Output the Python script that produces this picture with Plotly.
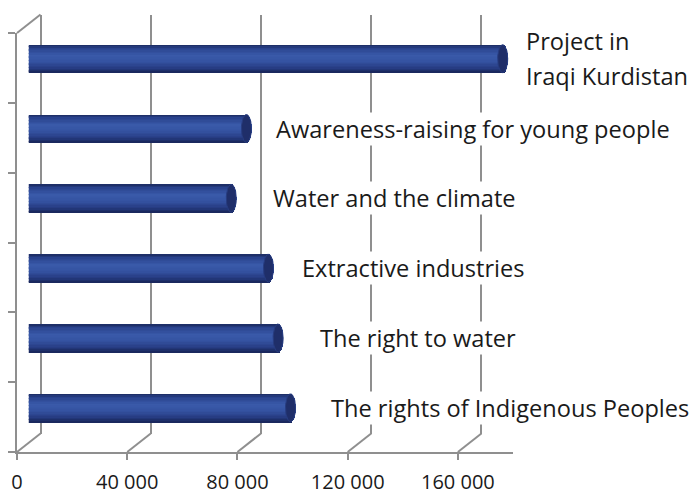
import math
import plotly.graph_objects as go

# ---------------- data ----------------
CATEGORIES = [
    "Project in Iraqi Kurdistan",
    "Awareness-raising for young people",
    "Water and the climate",
    "Extractive industries",
    "The right to water",
    "The rights of Indigenous Peoples",
]
LABEL_TEXT = [
    ["Project in", "Iraqi Kurdistan"],
    ["Awareness-raising for young people"],
    ["Water and the climate"],
    ["Extractive industries"],
    ["The right to water"],
    ["The rights of Indigenous Peoples"],
]
VALUES = [172000, 79000, 73500, 87000, 90500, 95000]
X_TICK_VALUES = [0, 40000, 80000, 120000, 160000]
X_TICK_LABELS = ["0", "40 000", "80 000", "120 000", "160 000"]

# ---------------- style / geometry ----------------
W, H = 693, 489
FRONT_L, FRONT_R, FRONT_T, FRONT_B = 17, 513, 33, 452
DX, DY = 23.5, 18.5            # depth offset of the back wall (px, right / up)
X_MAX = 180000
GRID = "#8f8f8f"
FONT = "Open Sans"
LABEL_GAP_PX = [22, 29, 41, 33, 41, 39]
LINE_PITCH = 35

n = len(CATEGORIES)
pos = [n - 1 - i for i in range(n)]           # top category drawn highest
px_per_unit = (FRONT_R - FRONT_L) / X_MAX
py_per_cat = (FRONT_B - FRONT_T) / n
BAR_T = 28 / py_per_cat                         # cylinder thickness (category units)
RX_U = 5 / px_per_unit                          # end-cap ellipse half width (x units)


def dom(sx, sy):
    return dict(
        domain_x=[(FRONT_L + sx) / W, (FRONT_R + sx) / W],
        domain_y=[(H - FRONT_B + sy) / H, (H - FRONT_T + sy) / H],
    )


def hex2rgb(h):
    h = h.lstrip("#")
    return [int(h[i:i + 2], 16) for i in (0, 2, 4)]


SHADE_STOPS = [
    (0.00, "#1b2a5e"),
    (0.12, "#29428c"),
    (0.38, "#3a5aaa"),
    (0.60, "#3452a1"),
    (0.82, "#273d84"),
    (1.00, "#182558"),
]


def shade(t):
    for (a, ca), (b, cb) in zip(SHADE_STOPS[:-1], SHADE_STOPS[1:]):
        if a <= t <= b:
            f = (t - a) / (b - a)
            r1, r2 = hex2rgb(ca), hex2rgb(cb)
            return "rgb(%d,%d,%d)" % tuple(round(p + (q - p) * f) for p, q in zip(r1, r2))
    return SHADE_STOPS[-1][1]


fig = go.Figure()

# empty traces so the front and back subplots exist
fig.add_trace(go.Scatter(x=[], y=[], xaxis="x", yaxis="y", showlegend=False, hoverinfo="skip"))
fig.add_trace(go.Scatter(x=[], y=[], xaxis="x2", yaxis="y2", showlegend=False, hoverinfo="skip"))

# base bar carrying the values
fig.add_trace(go.Bar(
    y=pos, x=VALUES, base=0, orientation="h", width=BAR_T,
    marker=dict(color="#2b4592", line=dict(width=0)),
    xaxis="x3", yaxis="y3", showlegend=False, name="",
    customdata=CATEGORIES, hovertemplate="%{customdata}: %{x}<extra></extra>",
))

# cylinder shading strips
N_STRIPS = 20
for k in range(N_STRIPS):
    t = ((k + 0.5) / N_STRIPS) * 2 - 1
    e = RX_U * math.sqrt(max(0.0, 1 - t * t))
    fig.add_trace(go.Bar(
        y=pos, x=[v + 2 * e for v in VALUES], base=[-e] * n, orientation="h",
        width=BAR_T / N_STRIPS * 1.08,
        offset=BAR_T / 2 - (k + 1) * BAR_T / N_STRIPS,
        marker=dict(color=shade((k + 0.5) / N_STRIPS), line=dict(width=0)),
        xaxis="x3", yaxis="y3", showlegend=False, hoverinfo="skip",
    ))

# end caps
cx, cy = [], []
for v, p in zip(VALUES, pos):
    for j in range(49):
        a = 2 * math.pi * j / 48
        cx.append(v + RX_U * math.cos(a))
        cy.append(p + BAR_T / 2 * math.sin(a))
    cx.append(None)
    cy.append(None)
fig.add_trace(go.Scatter(
    x=cx, y=cy, mode="lines", fill="toself", fillcolor="#1f2e69",
    line=dict(color="#273c80", width=1), xaxis="x3", yaxis="y3",
    showlegend=False, hoverinfo="skip",
))

# labels
annotations = []
for i, lines in enumerate(LABEL_TEXT):
    m = len(lines)
    for j, line in enumerate(lines):
        annotations.append(dict(
            x=VALUES[i], y=pos[i], xref="x3", yref="y3",
            xanchor="left", yanchor="middle", xshift=LABEL_GAP_PX[i],
            yshift=((m - 1) / 2 - j) * LINE_PITCH,
            text=line, showarrow=False, bgcolor="white", borderpad=0,
            font=dict(family=FONT, size=23.6, color="#1a1a1a"),
        ))

# floor diagonals and top-left depth edge
shapes = []
for v in X_TICK_VALUES:
    fx = FRONT_L + v * px_per_unit
    shapes.append(dict(
        type="line", xref="paper", yref="paper", layer="below",
        x0=fx / W, y0=(H - FRONT_B) / H, x1=(fx + DX) / W, y1=(H - FRONT_B + DY) / H,
        line=dict(color=GRID, width=2),
    ))
shapes.append(dict(
    type="line", xref="paper", yref="paper", layer="below",
    x0=FRONT_L / W, y0=(H - FRONT_T) / H, x1=(FRONT_L + DX) / W, y1=(H - FRONT_T + DY) / H,
    line=dict(color=GRID, width=2),
))

front = dom(0, 0)
back = dom(DX, DY)
mid = dom(DX / 2, DY / 2)
yr = [-0.5, n - 0.5]

fig.update_layout(
    width=W, height=H, margin=dict(l=0, r=0, t=0, b=0, autoexpand=False),
    paper_bgcolor="white", plot_bgcolor="rgba(0,0,0,0)",
    barmode="overlay", bargap=0, showlegend=False,
    annotations=annotations, shapes=shapes,
    font=dict(family=FONT, color="#1a1a1a"),
    xaxis=dict(
        domain=front["domain_x"], range=[0, X_MAX], anchor="y", automargin=False,
        showline=True, linecolor=GRID, linewidth=2,
        ticks="outside", ticklen=6, tickwidth=2, tickcolor=GRID,
        tickvals=X_TICK_VALUES, ticktext=X_TICK_LABELS,
        tickfont=dict(family=FONT, size=20, color="#1a1a1a"),
        ticklabelstandoff=5,
        showgrid=False, zeroline=False, fixedrange=True,
    ),
    yaxis=dict(
        domain=front["domain_y"], range=yr, anchor="x", automargin=False,
        showline=True, linecolor=GRID, linewidth=2,
        ticks="outside", ticklen=7, tickwidth=2, tickcolor=GRID,
        tickvals=[k - 0.5 for k in range(n + 1)], showticklabels=False,
        showgrid=False, zeroline=False, fixedrange=True,
    ),
    xaxis2=dict(
        domain=back["domain_x"], range=[0, X_MAX], anchor="y2", automargin=False,
        showgrid=True, gridcolor=GRID, gridwidth=2, tickvals=X_TICK_VALUES,
        showticklabels=False, ticks="", showline=False,
        zeroline=True, zerolinecolor=GRID, zerolinewidth=2, fixedrange=True,
    ),
    yaxis2=dict(
        domain=back["domain_y"], range=yr, anchor="x2", automargin=False,
        showgrid=False, zeroline=False, showticklabels=False, ticks="",
        showline=False, fixedrange=True,
    ),
    xaxis3=dict(
        domain=mid["domain_x"], range=[0, X_MAX], anchor="y3", visible=False,
        automargin=False, fixedrange=True,
    ),
    yaxis3=dict(
        domain=mid["domain_y"], range=yr, anchor="x3", visible=False,
        automargin=False, fixedrange=True,
    ),
)

fig.write_html(
    "out.html",
    config={"displayModeBar": False},
    post_script="document.body.style.margin='0';document.body.style.overflow='hidden';",
)
